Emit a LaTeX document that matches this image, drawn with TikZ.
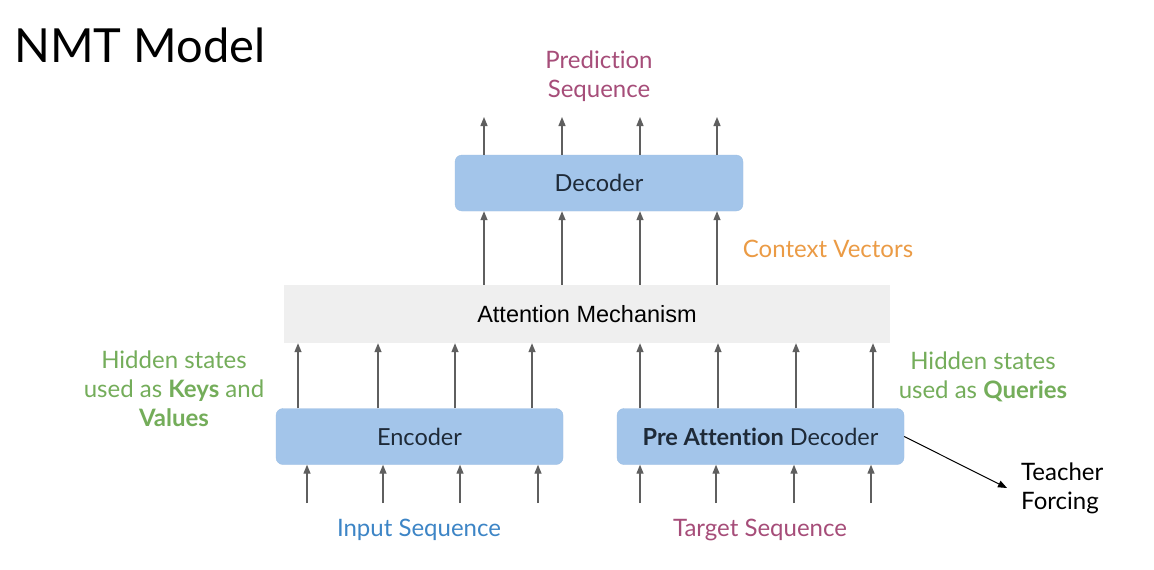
\documentclass[tikz,border=0pt]{standalone}
\usepackage{fontspec}
\setmainfont{Lato}[Ligatures=NoCommon]
\newfontfamily\arialfont{Liberation Sans}
\usetikzlibrary{arrows.meta,calc}
\definecolor{boxfill}{HTML}{A3C5EA}
\definecolor{boxedge}{HTML}{9DBFE4}
\definecolor{attfill}{HTML}{EFEFEF}
\definecolor{arrgray}{HTML}{5F5F5F}
\definecolor{txtdark}{HTML}{1E2A38}
\definecolor{lblgreen}{HTML}{74AD5A}
\definecolor{lblorange}{HTML}{EB9B45}
\definecolor{lblmaroon}{HTML}{A64D79}
\definecolor{lblblue}{HTML}{3D85C6}
\tikzset{
  box/.style={draw=boxedge, fill=boxfill, rounded corners=7pt, minimum width=288pt, minimum height=56pt, inner sep=0pt, text=txtdark, font=\fontsize{23.5}{28}\selectfont},
  arr/.style={draw=arrgray, line width=1.3pt, -{Triangle[length=9pt,width=7pt]}},
  lbl/.style={align=center, font=\fontsize{24}{29}\selectfont, inner sep=0pt},
}
\begin{document}
\begin{tikzpicture}[x=1pt,y=-1pt]
\useasboundingbox (0,0) rectangle (1154,570);
\fill[white] (0,0) rectangle (1154,570);
\node[anchor=west, inner sep=0pt, font=\fontsize{47}{56}\selectfont] (title) at (14,45) {NMT Model};

\node[box] (dec) at (599,183) {Decoder};
\node[fill=attfill, minimum width=606pt, minimum height=58pt, inner sep=0pt, font=\arialfont\fontsize{23.5}{28}\selectfont] (att) at (587,314) {Attention Mechanism};
\node[box, minimum width=287pt] (enc) at (419.5,436.5) {Encoder};
\node[box, minimum width=287pt] (pre) at (760.5,436.5) {\textbf{Pre Attention} Decoder};

% columns
\foreach \i/\x in {1/484,2/562,3/640,4/717}{
  \coordinate (t\i) at (\x,117);
  \coordinate (c\i) at (\x,0);
}
\foreach \i in {1,...,4}{
  \draw[arr] (dec.north -| c\i) -- (t\i);
  \draw[arr] (att.north -| c\i) -- (dec.south -| c\i);
}
\foreach \i/\x in {1/298,2/378,3/455,4/532,5/640,6/718,7/796,8/873}{
  \coordinate (h\i) at (\x,0);
}
\foreach \i in {1,...,4}{
  \draw[arr] (enc.north -| h\i) -- (att.south -| h\i);
}
\foreach \i in {5,...,8}{
  \draw[arr] (pre.north -| h\i) -- (att.south -| h\i);
}
\foreach \i/\x in {1/307,2/383,3/460,4/538}{
  \coordinate (ei\i) at (\x,503);
  \draw[arr] (ei\i) -- (enc.south -| ei\i);
}
\foreach \i/\x in {1/640,2/716,3/794,4/871}{
  \coordinate (pi\i) at (\x,503);
  \draw[arr] (pi\i) -- (pre.south -| pi\i);
}

\node[lbl, text=lblmaroon] (pred) at (599,76) {Prediction\\Sequence};
\node[lbl, text=lblorange] (ctx) at (828,249) {Context Vectors};
\node[lbl, text=lblgreen] (keys) at (174,389) {Hidden states\\used as \textbf{Keys} and\\\textbf{Values}};
\node[lbl, text=lblgreen] (qry) at (983,377) {Hidden states\\used as \textbf{Queries}};
\node[lbl, text=lblblue] (inp) at (419,530) {Input Sequence};
\node[lbl, text=lblmaroon] (tgt) at (760,530) {Target Sequence};
\node[lbl, align=left, anchor=west, text=black] (tf) at (1021,488) {Teacher\\Forcing};
\coordinate (tfend) at (1007,488);
\draw[black, line width=1pt, -{Triangle[length=9pt,width=7pt]}] (pre.east) -- (tfend);
\end{tikzpicture}
\end{document}
